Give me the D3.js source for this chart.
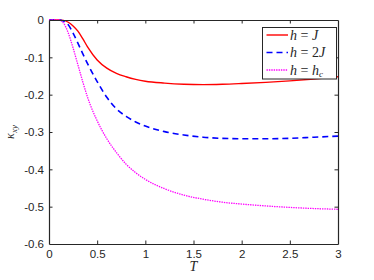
<!DOCTYPE html>
<html>
<head>
<meta charset="utf-8">
<script src="https://cdn.jsdelivr.net/npm/d3@7"></script>
<style>
html,body{margin:0;padding:0;background:#fff;}
svg{display:block;}
</style>
</head>
<body>
<svg id="chart" width="374" height="280"></svg>
<script>
const temps = [0, 0.1, 0.15, 0.2, 0.25, 0.3, 0.35, 0.4, 0.5, 0.6, 0.7, 0.8, 0.9, 1.0, 1.2, 1.4, 1.6, 1.8, 2.0, 2.25, 2.5, 2.75, 3.0];
const kappaJ  = [0, 0, -0.001, -0.006, -0.016, -0.030, -0.050, -0.072, -0.107, -0.129, -0.143, -0.152, -0.159, -0.164, -0.169, -0.172, -0.173, -0.172, -0.170, -0.167, -0.163, -0.158, -0.152];
const kappa2J = [0, 0, -0.003, -0.013, -0.035, -0.062, -0.090, -0.117, -0.165, -0.207, -0.238, -0.258, -0.273, -0.284, -0.299, -0.308, -0.314, -0.317, -0.318, -0.318, -0.317, -0.314, -0.311];
const kappaHc = [0, 0, -0.008, -0.035, -0.075, -0.120, -0.165, -0.207, -0.270, -0.318, -0.355, -0.386, -0.409, -0.427, -0.452, -0.469, -0.480, -0.488, -0.493, -0.498, -0.502, -0.505, -0.507];
const seriesNames = ["h = J", "h = 2J", "h = h_c"];
const xTicks = [0, 0.5, 1, 1.5, 2, 2.5, 3];
const yTicks = [0, -0.1, -0.2, -0.3, -0.4, -0.5, -0.6];

const svg = d3.select("#chart");
const pL = 49, pR = 338, pT = 20, pB = 244;
const x = d3.scaleLinear().domain([0, 3]).range([pL, pR]);
const y = d3.scaleLinear().domain([-0.6, 0]).range([pB, pT]);
const axisColor = "#262626";
const tickFont = "'Liberation Sans', Arial, Helvetica, sans-serif";
const serif = "'Liberation Serif', 'Times New Roman', serif";

const series = [
  {vals: kappaJ, color: "#ff0000", dash: null, width: 1.4},
  {vals: kappa2J, color: "#0000ff", dash: "6,4", width: 1.6},
  {vals: kappaHc, color: "#ff00ff", dash: "1.4,1", width: 1.3}
];

const line = d3.line().x(d => x(d[0])).y(d => y(d[1])).curve(d3.curveMonotoneX);
series.forEach(s => {
  svg.append("path")
    .datum(temps.map((t, i) => [t, s.vals[i]]))
    .attr("d", line)
    .attr("fill", "none")
    .attr("stroke", s.color)
    .attr("stroke-width", s.width)
    .attr("stroke-dasharray", s.dash);
});

// axes
const tickLen = 3.5;
const gBottom = svg.append("g").attr("transform", `translate(0,${pB})`)
  .call(d3.axisBottom(x).tickValues(xTicks).tickSizeInner(-tickLen).tickSizeOuter(0).tickPadding(6)
    .tickFormat(d => d3.format("")(d)));
const gTop = svg.append("g").attr("transform", `translate(0,${pT})`)
  .call(d3.axisTop(x).tickValues(xTicks).tickSizeInner(-tickLen).tickSizeOuter(0).tickFormat(""));
const gLeft = svg.append("g").attr("transform", `translate(${pL},0)`)
  .call(d3.axisLeft(y).tickValues(yTicks).tickSizeInner(-tickLen).tickSizeOuter(0).tickPadding(5)
    .tickFormat(d => d === 0 ? "0" : "-" + d3.format("")(Math.abs(d))));
const gRight = svg.append("g").attr("transform", `translate(${pR},0)`)
  .call(d3.axisRight(y).tickValues(yTicks).tickSizeInner(-tickLen).tickSizeOuter(0).tickFormat(""));

[gBottom, gTop, gLeft, gRight].forEach(g => {
  g.select(".domain").attr("stroke", axisColor).attr("stroke-width", 1.2);
  g.selectAll(".tick line").attr("stroke", axisColor).attr("stroke-width", 1);
  g.selectAll(".tick text").attr("fill", axisColor).style("font-family", tickFont).style("font-size", "11.5px");
});
gTop.selectAll(".tick").filter(d => d === 0 || d === 3).select("line").remove();
gRight.selectAll(".tick").filter(d => d === 0 || d === -0.6).select("line").remove();
gBottom.selectAll(".tick").filter(d => d === 0 || d === 3).select("line").remove();
gLeft.selectAll(".tick").filter(d => d === 0 || d === -0.6).select("line").remove();

// axis labels
svg.append("text").attr("x", (pL + pR) / 2).attr("y", 271).attr("text-anchor", "middle")
  .style("font-family", serif).style("font-style", "italic").style("font-size", "14px")
  .attr("fill", axisColor).text("T");

const yl = svg.append("text").attr("transform", `translate(14,${(pT + pB) / 2}) rotate(-90)`)
  .attr("text-anchor", "middle").attr("fill", axisColor)
  .style("font-family", serif).style("font-style", "italic").style("font-size", "12px");
yl.append("tspan").text("κ");
yl.append("tspan").attr("dy", 3).style("font-size", "9px").text("xy");

// legend
const lg = svg.append("g");
lg.append("rect").attr("x", 262.5).attr("y", 27.5).attr("width", 74).attr("height", 51.5)
  .attr("fill", "#fff").attr("stroke", axisColor).attr("stroke-width", 1);
const rowY = [35, 52.5, 70];
series.forEach((s, i) => {
  lg.append("line").attr("x1", 266.5).attr("x2", 288).attr("y1", rowY[i]).attr("y2", rowY[i])
    .attr("stroke", s.color).attr("stroke-width", s.width).attr("stroke-dasharray", s.dash);
  const t = lg.append("text").attr("x", 290).attr("y", rowY[i] + 4.5).attr("fill", axisColor)
    .style("font-family", serif).style("font-size", "14px");
  const parts = seriesNames[i].split(" = ");
  t.append("tspan").style("font-style", "italic").text("h");
  t.append("tspan").text(" = ");
  const rhs = parts[1];
  if (rhs === "h_c") {
    t.append("tspan").style("font-style", "italic").text("h");
    t.append("tspan").attr("dy", 2.5).style("font-style", "italic").style("font-size", "9px").text("c");
  } else if (rhs === "2J") {
    t.append("tspan").text("2");
    t.append("tspan").style("font-style", "italic").text("J");
  } else {
    t.append("tspan").style("font-style", "italic").text(rhs);
  }
});
</script>
</body>
</html>
